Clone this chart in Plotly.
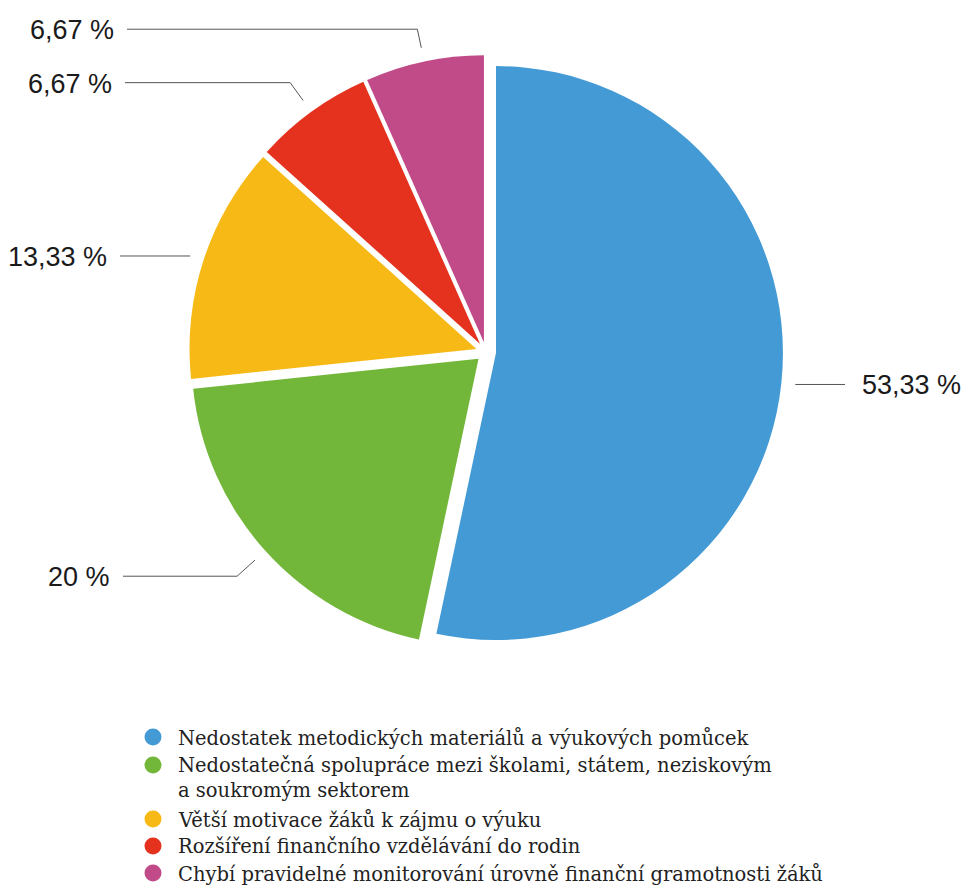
import math
import plotly.graph_objects as go

# Survey answers: share of respondents (%)
categories = [
    "Nedostatek metodických materiálů a výukových pomůcek",
    "Nedostatečná spolupráce mezi školami, státem, neziskovým<br>a soukromým sektorem",
    "Větší motivace žáků k zájmu o výuku",
    "Rozšíření finančního vzdělávání do rodin",
    "Chybí pravidelné monitorování úrovně finanční gramotnosti žáků",
]
shares = [53.33, 20, 13.33, 6.67, 6.67]
colors = ["#439AD4", "#72B73A", "#F7B916", "#E4321F", "#C14A88"]

W, H = 963, 885
PULL = 0.035
CX, CY, HALF = 486, 352, 297          # pie domain centre / half-size in px
R = HALF / (1 + PULL)                 # radius plotly will draw

# leader-line styling per slice: extra radial run, end of horizontal arm, side
leader_ext = [0, 24, 0, 22, 19]
leader_end_x = [845, 123, 120, 125, 127]
leader_side = ["right", "left", "left", "left", "left"]
LEADER_GAP = 14
TEXT_GAP_RIGHT = 15
TEXT_GAP_LEFT = 11


def px(x):
    return x / W


def py(y):
    return 1 - y / H


def fmt(v):
    s = f"{v:.2f}".rstrip("0").rstrip(".")
    return s.replace(".", ",") + " %"


fig = go.Figure(go.Pie(
    values=shares,
    labels=[c.replace("<br>", " ") for c in categories],
    sort=False,
    direction="clockwise",
    rotation=0,
    pull=[PULL] * len(shares),
    marker=dict(colors=colors, line=dict(width=0)),
    textinfo="none",
    hoverinfo="label+percent",
    showlegend=False,
    domain=dict(x=[px(CX - HALF), px(CX + HALF)],
                y=[py(CY + HALF), py(CY - HALF)]),
))

shapes = []
annotations = []
total = sum(shares)
cum = 0.0
for i, v in enumerate(shares):
    mid = 2 * math.pi * (cum + v / 2) / total
    cum += v
    dx, dy = math.sin(mid), -math.cos(mid)
    vx, vy = CX + PULL * R * dx, CY + PULL * R * dy
    x0, y0 = vx + (R + LEADER_GAP) * dx, vy + (R + LEADER_GAP) * dy
    r1 = R + LEADER_GAP + leader_ext[i]
    x1, y1 = vx + r1 * dx, vy + r1 * dy
    x2 = leader_end_x[i]
    path = f"M {px(x0)},{py(y0)} L {px(x1)},{py(y1)} L {px(x2)},{py(y1)}"
    shapes.append(dict(type="path", xref="paper", yref="paper", path=path,
                       line=dict(color="#555555", width=1)))
    if leader_side[i] == "right":
        tx, anchor = x2 + TEXT_GAP_RIGHT, "left"
    else:
        tx, anchor = x2 - TEXT_GAP_LEFT, "right"
    annotations.append(dict(
        x=px(tx), y=py(y1 + 1), xref="paper", yref="paper",
        text=fmt(v), showarrow=False, xanchor=anchor, yanchor="middle",
        font=dict(family="Liberation Sans, Arial, sans-serif", size=27,
                  color="#1a1a1a"),
    ))

# legend drawn as circles + serif text
legend_rows = [737, 765, 819, 846, 873]
LEG_DOT_X, LEG_TEXT_X, DOT_R = 153, 176, 8.5
for cat, col, ry in zip(categories, colors, legend_rows):
    shapes.append(dict(type="circle", xref="paper", yref="paper",
                       x0=px(LEG_DOT_X - DOT_R), x1=px(LEG_DOT_X + DOT_R),
                       y0=py(ry + DOT_R), y1=py(ry - DOT_R),
                       fillcolor=col, line=dict(width=0)))
    annotations.append(dict(
        x=px(LEG_TEXT_X), y=py(ry - 13), xref="paper", yref="paper",
        text=cat, showarrow=False, xanchor="left", yanchor="top", align="left",
        font=dict(family="DejaVu Serif, serif", size=19.5, color="#222222"),
    ))

fig.update_layout(
    width=W, height=H,
    margin=dict(l=0, r=0, t=0, b=0),
    paper_bgcolor="white", plot_bgcolor="white",
    shapes=shapes, annotations=annotations,
)

fig.write_html("out.html")
